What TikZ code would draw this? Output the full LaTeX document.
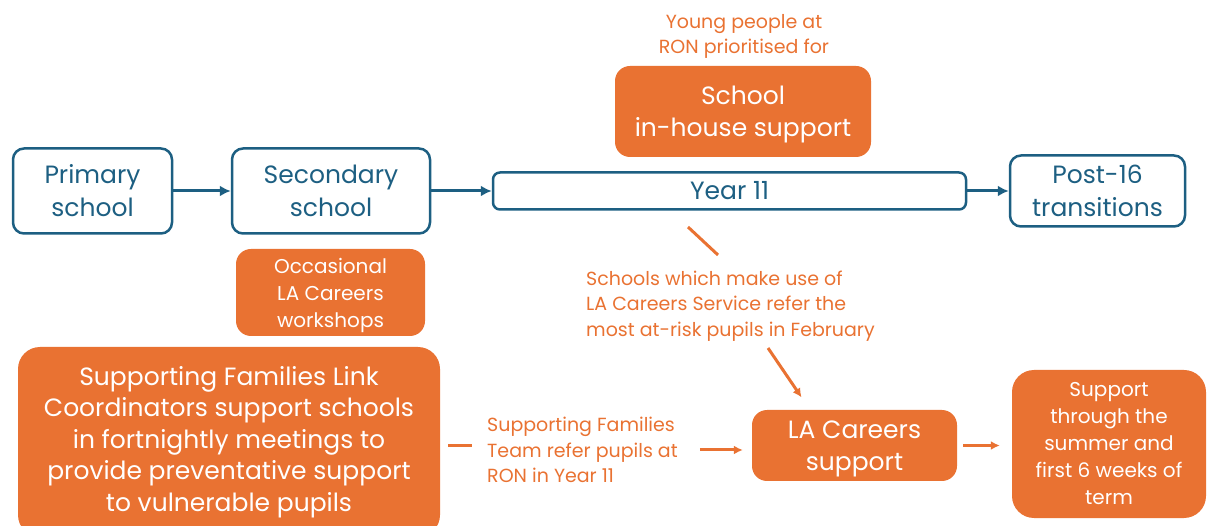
\documentclass[tikz,border=0pt]{standalone}
\usepackage{fontspec}
\setmainfont{Poppins}
\usetikzlibrary{arrows.meta}

\definecolor{ronblue}{HTML}{1D5F82}
\definecolor{ronorange}{HTML}{E97232}

\tikzset{
	stage/.style={draw=ronblue, line width=2.5pt, rounded corners=11pt, text=ronblue,
		align=center, inner sep=0pt, font=\fontsize{25}{33}\selectfont},
	offer/.style={fill=ronorange, rounded corners=15pt, text=white, align=center, inner sep=0pt},
	note/.style={text=ronorange, inner sep=0pt, font=\fontsize{19}{25.5}\selectfont},
	flow/.style={ronblue, line width=3pt, -{Latex[length=11pt,width=11pt]}},
	link/.style={ronorange, line width=3pt},
	refer/.style={link, -{Latex[length=9pt,width=9pt]}},
}

\begin{document}
\begin{tikzpicture}[x=1pt,y=-1pt]
	\useasboundingbox (0,0) rectangle (1208,526);

	%%% Этапы
	\node[stage, minimum width=159pt, minimum height=85pt] (primary) at (92.5,191) {Primary\\school};
	\node[stage, minimum width=198pt, minimum height=85pt] (secondary) at (331,191) {Secondary\\school};
	\node[stage, minimum width=473pt, minimum height=37pt, rounded corners=7pt] (year11) at (729.5,191) {Year 11};
	\node[stage, minimum width=175pt, minimum height=71pt] (post16) at (1097.5,191) {Post-16\\transitions};

	%%% Поддержка
	\node[note, align=center] (prioritised) at (744,36.5) {Young people at\\RON prioritised for};
	\node[offer, minimum width=256pt, minimum height=91pt, text depth=0pt, font=\fontsize{25}{32}\selectfont] (inhouse) at (743,111.5) {School\\in-house support};
	\node[offer, minimum width=189pt, minimum height=87pt, text depth=0pt, font=\fontsize{20}{27}\selectfont] (workshops) at (330.5,292.5) {Occasional\\LA Careers\\workshops};
	\node[offer, minimum width=422pt, minimum height=190pt, rounded corners=22pt, font=\fontsize{25}{31.5}\selectfont] (sflink) at (229,442)
		{Supporting Families Link\\Coordinators support schools\\in fortnightly meetings to\\provide preventative support\\to vulnerable pupils};
	\node[note, align=left, anchor=west] (sfteam) at (487,450) {Supporting Families\\Team refer pupils at\\RON in Year 11};
	\node[offer, minimum width=205pt, minimum height=71pt, text depth=0pt, font=\fontsize{25}{32}\selectfont] (lacareers) at (854.5,445.5) {LA Careers\\support};
	\node[offer, minimum width=194pt, minimum height=148pt, rounded corners=22pt, font=\fontsize{20}{27}\selectfont] (summer) at (1109,444)
		{Support\\through the\\summer and\\first 6 weeks of\\term};
	\node[note, align=left, anchor=west] (atrisk) at (586,306) {Schools which make use of\\LA Careers Service refer the\\most at-risk pupils in February};

	%%% Стрелки
	\draw[flow] (primary) -- (secondary);
	\draw[flow] (secondary) -- (year11);
	\draw[flow] (year11) -- (post16);

	\coordinate (y11out) at (688,227);
	\coordinate (atriskin) at (718,255);
	\coordinate (atriskout) at (768,348);
	\draw[link] (y11out) -- (atriskin);
	\draw[refer, shorten >=15pt] (atriskout) -- (lacareers.north -| 810,0);

	\draw[link, shorten <=8pt, shorten >=15pt] (sflink.east |- lacareers.west) -- (sfteam.west |- lacareers.west);
	\draw[refer, shorten <=22pt, shorten >=9pt] (sfteam.east) -- (lacareers.west |- sfteam.east);
	\draw[refer, shorten <=6pt, shorten >=12pt] (lacareers.east) -- (summer.west |- lacareers.east);
\end{tikzpicture}
\end{document}
